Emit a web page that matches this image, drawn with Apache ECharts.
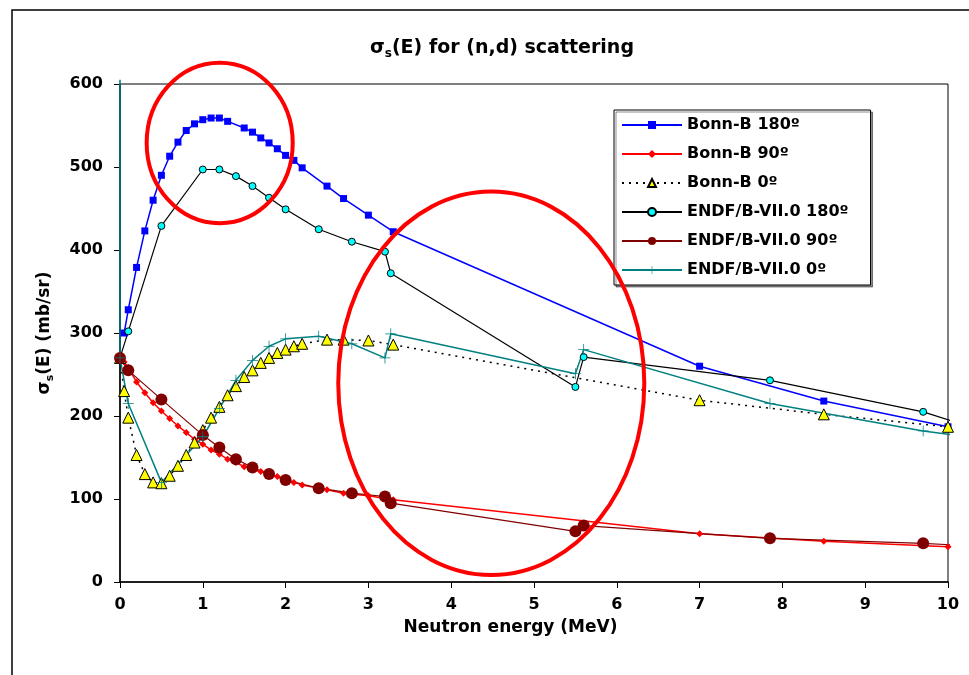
<!DOCTYPE html>
<html><head><meta charset="utf-8">
<script src="https://cdn.jsdelivr.net/npm/echarts@6/dist/echarts.min.js"></script>
<style>html,body{margin:0;padding:0;background:#fff}#c{width:969px;height:675px}</style>
</head><body><div id="c"></div>
<script>
// ---- data (energy MeV, cross section mb/sr) ----
const seriesNames = ['Bonn-B 180º','Bonn-B 90º','Bonn-B 0º','ENDF/B-VII.0 180º','ENDF/B-VII.0 90º','ENDF/B-VII.0 0º'];
const bonnB180 = [[0.05,300],[0.1,328],[0.2,379],[0.3,423],[0.4,460],[0.5,490],[0.6,513],[0.7,530],[0.8,544],[0.9,552],[1.0,557],[1.1,559],[1.2,559],[1.3,555],[1.5,547],[1.6,542],[1.7,535],[1.8,529],[1.9,522],[2.0,514],[2.1,508],[2.2,499],[2.5,477],[2.7,462],[3.0,442],[3.3,422],[7.0,260],[8.5,218],[10.0,187]];
const bonnB90 = [[0.05,265],[0.1,258],[0.2,241],[0.3,228],[0.4,216],[0.5,206],[0.6,197],[0.7,188],[0.8,180],[0.9,172],[1.0,166],[1.1,159],[1.2,154],[1.3,148],[1.4,144],[1.5,139],[1.6,136],[1.7,133],[1.8,130],[1.9,127],[2.0,123],[2.1,120],[2.2,117],[2.5,111],[2.7,107],[3.0,104],[3.3,99],[7.0,58],[8.5,49],[10.0,42.5],[10.08,42]];
const bonnB0 = [[0,270],[0.05,230],[0.1,198],[0.2,153],[0.3,130],[0.4,120],[0.5,119],[0.6,128],[0.7,140],[0.8,153],[0.9,168],[1.0,183],[1.1,198],[1.2,211],[1.3,225],[1.4,236],[1.5,247],[1.6,255],[1.7,264],[1.8,270],[1.9,276],[2.0,280],[2.1,284],[2.2,287],[2.5,292],[2.7,292],[3.0,291],[3.3,286],[7.0,219],[8.5,202],[10.0,187]];
const endf180 = [[0,270],[0.1,302],[0.5,429],[1.0,497],[1.2,497],[1.4,489],[1.6,477],[1.8,463],[2.0,449],[2.4,425],[2.8,410],[3.2,398],[3.27,372],[5.5,235],[5.6,271],[7.85,243],[9.7,205],[10.08,193]];
const endf90 = [[0,270],[0.1,255],[0.5,220],[1.0,177],[1.2,162],[1.4,148],[1.6,138],[1.8,130],[2.0,123],[2.4,113],[2.8,107],[3.2,103],[3.27,95],[5.5,61],[5.6,68],[7.85,52.6],[9.7,46.6],[10.08,44.6]];
const endf0 = [[0,605],[0,270],[0.1,215],[0.5,120],[1.0,175],[1.2,209],[1.4,243],[1.6,267],[1.8,284],[2.0,293],[2.4,296],[2.8,287],[3.2,270],[3.27,299],[5.5,251],[5.6,280],[7.85,215],[9.7,182],[10.08,177]];
const xRange = [0, 10, 1];     // min, max, interval
const yRange = [0, 600, 100];
// annotation ellipses in data units: [centerE, centerSigma, radiusE, radiusSigma]
const ellipse1 = [1.204, 529, 0.882, 96.7];
const ellipse2 = [4.484, 239.4, 1.848, 231];

const FONT = 'DejaVu Sans';
const chart = echarts.init(document.getElementById('c'), null, {renderer:'canvas'});
const plusPath = 'path://M9.3,0h1.4v20h-1.4z M0,9.3h20v1.4h-20z';

// points lying outside the axis range (line continues past the frame) get no marker
function marks(data){
  return data.map(p => (p[0] > xRange[1] || p[1] > yRange[1]) ? {value:p, symbol:'none'} : p);
}
function line(name, data, lineStyle, itemStyle, symbol, size){
  return {name, type:'line', data:marks(data), clip:false, symbol, symbolSize:size,
    lineStyle, itemStyle, emphasis:{disabled:true}, animation:false};
}

const option = {
  animation:false,
  title:{
    text:'{a|σ}{b|s}{a|(E) for (n,d) scattering}',
    left:365, top:31,
    textStyle:{rich:{
      a:{fontFamily:FONT,fontWeight:'bold',fontSize:19,color:'#000',lineHeight:24},
      b:{fontFamily:FONT,fontWeight:'bold',fontSize:12,color:'#000',lineHeight:24,verticalAlign:'bottom',padding:[8,0,0,0]}
    }}
  },
  legend:{
    orient:'vertical', left:614, top:110,
    itemWidth:60, itemHeight:10, itemGap:13,
    padding:[7,22,7,7],
    borderColor:'#000', borderWidth:1, backgroundColor:'#fff',
    shadowColor:'rgba(0,0,0,0.45)', shadowOffsetX:2, shadowOffsetY:2, shadowBlur:0,
    textStyle:{fontFamily:FONT,fontWeight:'bold',fontSize:16,color:'#000'},
    data:seriesNames
  },
  grid:{left:120, right:21, top:84, bottom:93, show:true, borderColor:'#000', borderWidth:1},
  xAxis:{
    type:'value', min:xRange[0], max:xRange[1], interval:xRange[2],
    axisLine:{lineStyle:{color:'#000',width:1.5}},
    axisTick:{length:6,lineStyle:{color:'#000'}},
    axisLabel:{color:'#000',fontFamily:FONT,fontWeight:'bold',fontSize:16,margin:15},
    splitLine:{show:false},
    name:'Neutron energy (MeV)', nameLocation:'middle', nameGap:37,
    nameTextStyle:{color:'#000',fontFamily:FONT,fontWeight:'bold',fontSize:17,padding:[0,47,0,0]}
  },
  yAxis:{
    type:'value', min:yRange[0], max:yRange[1], interval:yRange[2],
    axisLine:{show:true,lineStyle:{color:'#000',width:1.5}},
    axisTick:{show:true,length:6,lineStyle:{color:'#000'}},
    axisLabel:{color:'#000',fontFamily:FONT,fontWeight:'bold',fontSize:16,margin:17},
    splitLine:{show:false},
    name:'{a|σ}{b|s}{a|(E) (mb/sr)}', nameLocation:'middle', nameGap:64, nameRotate:90,
    nameTextStyle:{rich:{
      a:{fontFamily:FONT,fontWeight:'bold',fontSize:17,color:'#000',lineHeight:22},
      b:{fontFamily:FONT,fontWeight:'bold',fontSize:11,color:'#000',lineHeight:22,verticalAlign:'bottom',padding:[7,0,0,0]}
    }}
  },
  series:[
    line(seriesNames[0], bonnB180, {color:'#0000FF',width:1.5}, {color:'#0000FF'}, 'rect', 7),
    line(seriesNames[1], bonnB90, {color:'#FF0000',width:1.5}, {color:'#FF0000'}, 'diamond', 7),
    line(seriesNames[2], bonnB0, {color:'#000',width:1.5,type:[2,5]}, {color:'#FFFF00',borderColor:'#000',borderWidth:1}, 'triangle', 11),
    line(seriesNames[3], endf180, {color:'#000',width:1.2}, {color:'#00FFFF',borderColor:'#000',borderWidth:1}, 'circle', 7),
    line(seriesNames[4], endf90, {color:'#800000',width:1.2}, {color:'#800000'}, 'circle', 12),
    line(seriesNames[5], endf0, {color:'#008080',width:1.5}, {color:'#008080'}, plusPath, 11)
  ]
};
chart.setOption(option);

function ell(a){
  const c = chart.convertToPixel({gridIndex:0},[a[0],a[1]]);
  const r = chart.convertToPixel({gridIndex:0},[a[0]+a[2],a[1]+a[3]]);
  return {type:'ellipse', z:100, silent:true,
    shape:{cx:c[0],cy:c[1],rx:Math.abs(r[0]-c[0]),ry:Math.abs(r[1]-c[1])},
    style:{fill:null,stroke:'#FF0000',lineWidth:4}};
}
chart.setOption({graphic:[
  {type:'rect', z:-1, silent:true, shape:{x:12,y:10,width:1000,height:700}, style:{fill:null,stroke:'#000',lineWidth:1.5}},
  ell(ellipse1), ell(ellipse2)
]});
</script>
</body></html>
